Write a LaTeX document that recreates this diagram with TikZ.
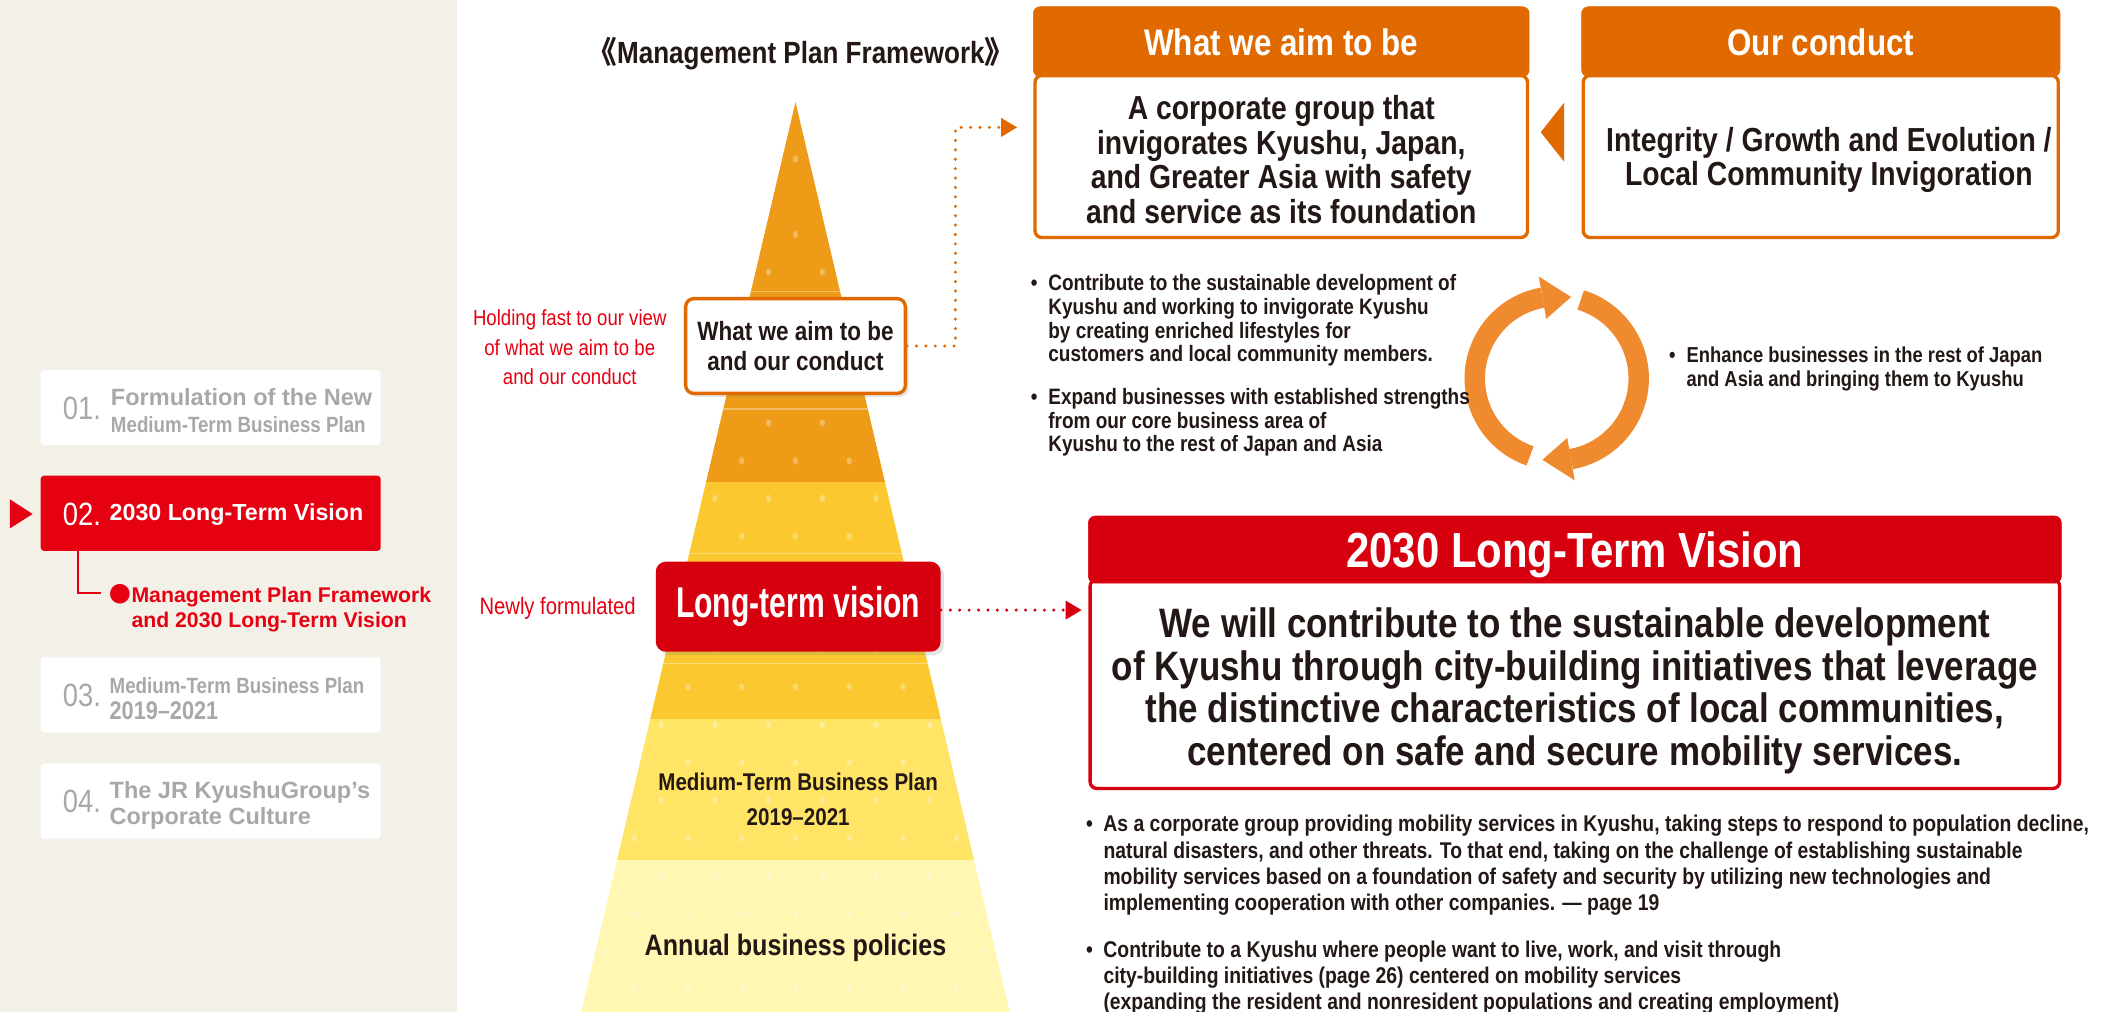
\documentclass[tikz,border=0pt]{standalone}
\usepackage{xcolor}
\usepackage{fontspec}
\setmainfont{Liberation Sans}
\newfontfamily\condfont{Liberation Sans}[FakeStretch=0.85]
\newfontfamily\slimfont{Liberation Sans}[FakeStretch=0.7]
\newfontfamily\cjkfont{Noto Sans CJK JP}
\usetikzlibrary{arrows.meta, calc, shadows}

\definecolor{sidebg}{HTML}{F3F0E8}
\definecolor{navgray}{HTML}{A8A8A8}
\definecolor{navred}{HTML}{E50012}
\definecolor{hdr}{HTML}{E06A00}
\definecolor{vred}{HTML}{D7000F}
\definecolor{cycorange}{HTML}{F08A2E}
\definecolor{pyrA}{HTML}{EE9B17}
\definecolor{pyrB}{HTML}{FBC92F}
\definecolor{pyrC}{HTML}{FFE466}
\definecolor{pyrD}{HTML}{FFF7B2}
\definecolor{ink}{HTML}{231815}

\newcommand{\fsz}[2]{\fontsize{#1}{#2}\selectfont}
\newcommand{\bmark}{\makebox[13pt][l]{\textbullet}}
\newcommand{\bgap}{\hspace*{13pt}}

\tikzset{
  navbox/.style={rectangle, fill=white, rounded corners=2.5pt, minimum width=253pt, minimum height=56pt, inner sep=0pt},
  navnum/.style={anchor=west, inner sep=0pt, text=navgray, font=\condfont\fsz{24}{24}},
  navtext/.style={anchor=west, inner sep=0pt, align=left, text=navgray, font=\bfseries\fsz{17.5}{19.8}},
  hdrbox/.style={rectangle, fill=#1, draw=#1, rounded corners=5pt, inner sep=0pt, minimum height=52pt, text=white, text depth=0pt},
  bodybox/.style={rectangle, fill=white, draw=#1, line width=2.5pt, rounded corners=5pt, inner sep=0pt},
  boxtext/.style={inner sep=0pt, align=center, text=ink, font=\condfont\bfseries\fsz{24.8}{25.8}},
  bullets/.style={anchor=west, inner sep=0pt, align=left, text=ink, font=\condfont\bfseries\fsz{16.6}{17.5}},
  notes/.style={anchor=west, inner sep=0pt, align=left, text=ink, font=\condfont\bfseries\fsz{16.95}{19.6}},
  redlabel/.style={inner sep=0pt, align=center, text=navred, font=\condfont\fsz{16.3}{22}},
  pyrtext/.style={inner sep=0pt, align=center, text=ink},
  smallbox/.style={rectangle, fill=white, draw=hdr, line width=2.5pt, rounded corners=6pt, minimum width=163.5pt, minimum height=70.5pt, inner sep=0pt, align=center, text=ink, font=\condfont\bfseries\fsz{19.7}{22}, drop shadow={opacity=0.22, shadow xshift=2.5pt, shadow yshift=-2.5pt}},
  ltvbox/.style={rectangle, fill=vred, rounded corners=7.5pt, minimum width=212pt, minimum height=67pt, inner sep=0pt, text=white, font=\slimfont\bfseries\fsz{32}{32}, drop shadow={opacity=0.22, shadow xshift=2.5pt, shadow yshift=-2.5pt}},
  dotline/.style={line width=2.5pt, line cap=round, dash pattern=on 0pt off 7pt, -{Triangle[length=12pt, width=13.5pt]}},
  cycarc/.style={line width=15.2pt, draw=cycorange},
}

\begin{document}
\begin{tikzpicture}[x=1pt, y=1pt]
  \useasboundingbox (0,0) rectangle (1568,-753);
  \fill[white] (0,0) rectangle (1568,-753);

  % side menu
  \fill[sidebg] (0,0) rectangle (340,-753);
  \node[navbox] (nav1) at (156.8,-303.3) {};
  \node[navbox, fill=navred] (nav2) at (156.8,-382) {};
  \node[navbox] (nav3) at (156.8,-517.2) {};
  \node[navbox] (nav4) at (156.8,-596) {};

  \node[navnum] (num1) at (46.6,-303.9) {01.};
  \node[navtext] (lab1) at (82.4,-305.4) {Formulation of the New\\{\condfont\fsz{16.4}{19.8}Medium-Term Business Plan}};

  \fill[navred] (7.4,-371.6) -- (24.3,-382.5) -- (7.4,-393.2) -- cycle;
  \node[navnum, text=white] (num2) at (46.6,-382.6) {02.};
  \node[navtext, text=white, font=\bfseries\fsz{17.3}{20}] (lab2) at (81.4,-382.6) {2030 Long-Term Vision};

  % current sub-item
  \coordinate (navend) at (75,-441.6);
  \draw[navred, line width=1.5pt] (nav2.south west) ++(28,0) |- (navend);
  \node[navtext, text=navred, font=\bfseries\fsz{15.8}{18.6}] (sub2) at (81.5,-452.4) {{\cjkfont\fsz{16.2}{18.6}●}Management Plan Framework\\\phantom{\cjkfont\fsz{16.2}{18.6}●}and 2030 Long-Term Vision};

  \node[navnum] (num3) at (46.6,-517.2) {03.};
  \node[navtext, font=\condfont\bfseries\fsz{16.4}{19.1}] (lab3) at (81.4,-519.7) {Medium-Term Business Plan\\{\fsz{19}{19.1}2019–2021}};

  \node[navnum] (num4) at (46.6,-596.6) {04.};
  \node[navtext] (lab4) at (81.4,-599.4) {The JR KyushuGroup's\\Corporate Culture};

  % framework pyramid
  \node[text=ink, inner sep=0pt, font=\condfont\bfseries\fsz{22.8}{24}] (title) at (596,-40) {{\cjkfont 《}Management Plan Framework{\cjkfont 》}};

  \begin{scope}
    \clip (592,-76) -- (751.4,-753) -- (432.6,-753) -- cycle;
    \fill[pyrA] (420,-70) rectangle (770,-359);
    \fill[pyrB] (420,-359) rectangle (770,-535);
    \fill[pyrC] (420,-535) rectangle (770,-640);
    \fill[pyrD] (420,-640) rectangle (770,-760);
    \foreach \y in {217,304.4,412,494}
      \draw[white, opacity=0.35, line width=1pt] (420,-\y) -- (770,-\y);
    \foreach \k in {0,...,22} {
      \pgfmathsetmacro{\yy}{118.3+28.07*\k}
      \pgfmathsetmacro{\xo}{mod(\k,2)*20}
      \foreach \m in {-5,...,5}
        \fill[white, opacity=0.3] ({592-\xo+40*\m},-\yy) ellipse [x radius=2pt, y radius=2.7pt];
    }
  \end{scope}

  \node[pyrtext, font=\condfont\bfseries\fsz{18}{26}] (mtp) at (594,-594.6) {Medium-Term Business Plan\\2019–2021};
  \node[pyrtext, font=\condfont\bfseries\fsz{22}{24}] (annual) at (592,-705) {Annual business policies};

  % what we aim to be / long-term vision on the pyramid
  \node[smallbox] (aimsmall) at (592,-257.5) {What we aim to be\\and our conduct};
  \node[ltvbox] (ltv) at (594,-451.5) {Long-term vision};

  \node[redlabel] (holdlabel) at (424,-258.5) {Holding fast to our view\\of what we aim to be\\and our conduct};
  \node[redlabel, font=\condfont\fsz{17.7}{20}] (newlabel) at (415,-452.5) {Newly formulated};

  % top boxes
  \node[bodybox=hdr, minimum width=366.5pt, minimum height=120.5pt] (aimbody) at (953.5,-116.5) {};
  \node[hdrbox=hdr, minimum width=369pt, font=\condfont\bfseries\fsz{27.5}{30}] (aimhead) at (953.5,-31) {What we aim to be};
  \node[boxtext] (aimtext) at (953.5,-118.7) {A corporate group that\\invigorates Kyushu, Japan,\\and Greater Asia with safety\\and service as its foundation};

  \node[bodybox=hdr, minimum width=353.5pt, minimum height=120.5pt] (conbody) at (1355,-116.5) {};
  \node[hdrbox=hdr, minimum width=356pt, font=\condfont\bfseries\fsz{27.5}{30}] (conhead) at (1355,-31) {Our conduct};
  \node[boxtext] (context) at (1361,-119) {Integrity / Growth and Evolution /\\Local Community Invigoration};

  \fill[hdr] (1164,-76.4) -- (1146.6,-98.4) -- (1164,-120.3) -- cycle;

  % dotted links
  \coordinate (aimtip) at (757,-94.8);
  \draw[dotline, hdr] (aimsmall.east) -- ++(36,0) |- (aimtip);
  \coordinate (ltvtip) at (805,-454);
  \draw[dotline, vred] (ltv.east |- ltvtip) -- (ltvtip);

  % growth cycle
  \coordinate (cyc) at (1158.5,-281.6);
  \draw[cycarc] ([shift={(251:61)}]cyc) arc[start angle=251, end angle=100, radius=61];
  \fill[cycorange] ([shift={(100:45)}]cyc) -- ([shift={(100:77)}]cyc) -- ([shift={(80:61.5)}]cyc) -- cycle;
  \draw[cycarc] ([shift={(73:61)}]cyc) arc[start angle=73, end angle=-80, radius=61];
  \fill[cycorange] ([shift={(-80:45)}]cyc) -- ([shift={(-80:77)}]cyc) -- ([shift={(-100:61.5)}]cyc) -- cycle;

  \node[bullets] (dev1) at (767,-238.5) {\bmark Contribute to the sustainable development of\\\bgap Kyushu and working to invigorate Kyushu\\\bgap by creating enriched lifestyles for\\\bgap customers and local community members.};
  \node[bullets] (dev2) at (767,-314.5) {\bmark Expand businesses with established strengths\\\bgap from our core business area of\\\bgap Kyushu to the rest of Japan and Asia};
  \node[bullets, font=\condfont\bfseries\fsz{16.1}{18}] (dev3) at (1242,-274.5) {\bmark Enhance businesses in the rest of Japan\\\bgap and Asia and bringing them to Kyushu};

  % long-term vision box
  \node[bodybox=vred, minimum width=721.5pt, minimum height=155.5pt] (visbody) at (1172,-509) {};
  \node[hdrbox=vred, minimum width=724pt, minimum height=50pt, font=\condfont\bfseries\fsz{36.7}{40}] (vishead) at (1172,-409) {2030 Long-Term Vision};
  \node[boxtext, font=\condfont\bfseries\fsz{30.6}{31.6}] (vistext) at (1172,-514) {We will contribute to the sustainable development\\of Kyushu through city-building initiatives that leverage\\the distinctive characteristics of local communities,\\centered on safe and secure mobility services.};

  \node[notes] (note1) at (808,-644) {\bmark As a corporate group providing mobility services in Kyushu, taking steps to respond to population decline,\\\bgap natural disasters, and other threats. To that end, taking on the challenge of establishing sustainable\\\bgap mobility services based on a foundation of safety and security by utilizing new technologies and\\\bgap implementing cooperation with other companies. — page 19};
  \node[notes] (note2) at (808,-727.5) {\bmark Contribute to a Kyushu where people want to live, work, and visit through\\\bgap city-building initiatives (page 26) centered on mobility services\\\bgap (expanding the resident and nonresident populations and creating employment)};
\end{tikzpicture}
\end{document}
